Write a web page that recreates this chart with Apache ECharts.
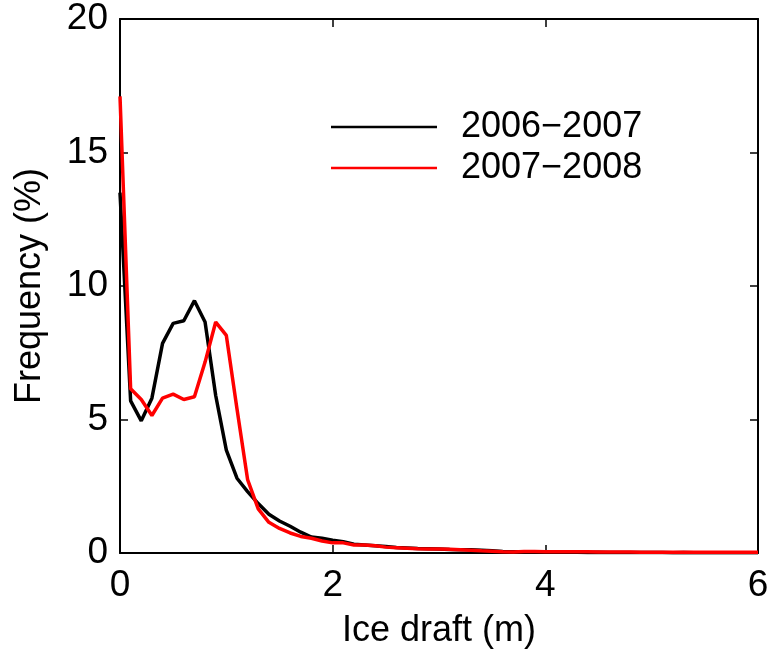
<!DOCTYPE html>
<html>
<head>
<meta charset="utf-8">
<script src="https://cdn.jsdelivr.net/npm/echarts@6/dist/echarts.min.js"></script>
<style>html,body{margin:0;padding:0;background:#fff}#c{width:772px;height:656px}</style>
</head>
<body>
<div id="c"></div>
<script>
const draft = [0.0,0.1,0.2,0.3,0.4,0.5,0.6,0.7,0.8,0.9,1.0,1.1,1.2,1.3,1.4,1.5,1.6,1.7,1.8,1.9,2.0,2.1,2.2,2.3,2.4,2.5,2.6,2.7,2.8,2.9,3.0,3.1,3.2,3.3,3.4,3.5,3.6,3.7,3.8,3.9,4.0,4.1,4.2,4.3,4.4,4.5,4.6,4.7,4.8,4.9,5.0,5.1,5.2,5.3,5.4,5.5,5.6,5.7,5.8,5.9,6.0];
const freq0607 = [13.5,5.7,4.95,5.8,7.85,8.6,8.7,9.45,8.65,5.9,3.85,2.8,2.3,1.85,1.45,1.2,1.0,0.78,0.6,0.55,0.48,0.42,0.33,0.3,0.27,0.24,0.21,0.19,0.17,0.16,0.15,0.13,0.12,0.12,0.1,0.08,0.06,0.05,0.04,0.04,0.03,0.03,0.03,0.03,0.02,0.03,0.02,0.02,0.02,0.02,0.02,0.02,0.01,0.02,0.01,0.01,0.01,0.01,0.01,0.01,0.01];
const freq0708 = [17.1,6.15,5.75,5.15,5.8,5.95,5.75,5.85,7.15,8.65,8.15,5.4,2.75,1.65,1.15,0.92,0.75,0.62,0.55,0.45,0.38,0.38,0.3,0.3,0.27,0.22,0.2,0.18,0.16,0.15,0.15,0.14,0.12,0.1,0.08,0.07,0.05,0.04,0.06,0.06,0.05,0.05,0.05,0.05,0.05,0.04,0.04,0.04,0.04,0.03,0.03,0.03,0.03,0.03,0.03,0.03,0.03,0.03,0.03,0.03,0.03];
const seriesNames = ['2006\u22122007','2007\u22122008'];
const xTicks = [0,2,4,6];
const yTicks = [0,5,10,15,20];

const FONT = 'Liberation Sans, Arial, Helvetica, sans-serif';
const FS = 36;
const chart = echarts.init(document.getElementById('c'), null, {renderer:'canvas'});
function axLine(){ return {show:true, onZero:false, lineStyle:{color:'#000', width:2}}; }
function tick(){ return {show:true, inside:true, length:8, lineStyle:{color:'#000', width:1.5}}; }
chart.setOption({
  animation:false,
  backgroundColor:'#fff',
  grid:{left:120, right:14, top:19, bottom:103, containLabel:false},
  legend:{
    data:seriesNames, orient:'vertical', left:326, top:104,
    icon:'rect', itemWidth:106, itemHeight:2.5, itemGap:5,
    textStyle:{fontFamily:FONT, fontSize:FS, color:'#000', padding:[0,0,0,19], lineHeight:36}
  },
  xAxis:[
    {type:'value', min:xTicks[0], max:xTicks[xTicks.length-1], interval:2, position:'bottom',
     name:'Ice draft (m)', nameLocation:'middle', nameGap:60,
     nameTextStyle:{fontFamily:FONT, fontSize:FS, color:'#000'},
     axisLine:axLine(), axisTick:tick(), splitLine:{show:false},
     axisLabel:{fontFamily:FONT, fontSize:FS+1, color:'#000', margin:14}},
    {type:'value', min:0, max:6, interval:2, position:'top',
     axisLine:axLine(), axisTick:tick(), splitLine:{show:false}, axisLabel:{show:false}}
  ],
  yAxis:[
    {type:'value', min:yTicks[0], max:yTicks[yTicks.length-1], interval:5, position:'left',
     name:'Frequency (%)', nameLocation:'middle', nameGap:72,
     nameTextStyle:{fontFamily:FONT, fontSize:FS, color:'#000'},
     axisLine:axLine(), axisTick:tick(), splitLine:{show:false},
     axisLabel:{fontFamily:FONT, fontSize:FS+1, color:'#000', margin:12}},
    {type:'value', min:0, max:20, interval:5, position:'right',
     axisLine:axLine(), axisTick:tick(), splitLine:{show:false}, axisLabel:{show:false}}
  ],
  series:[
    {name:seriesNames[0], type:'line', xAxisIndex:0, yAxisIndex:0, showSymbol:false, symbol:'none',
     data:draft.map((d,i)=>[d,freq0607[i]]), color:'#000', lineStyle:{color:'#000', width:3.5}},
    {name:seriesNames[1], type:'line', xAxisIndex:0, yAxisIndex:0, showSymbol:false, symbol:'none',
     data:draft.map((d,i)=>[d,freq0708[i]]), color:'#ff0000', lineStyle:{color:'#ff0000', width:3.5}}
  ]
});
</script>
</body>
</html>
